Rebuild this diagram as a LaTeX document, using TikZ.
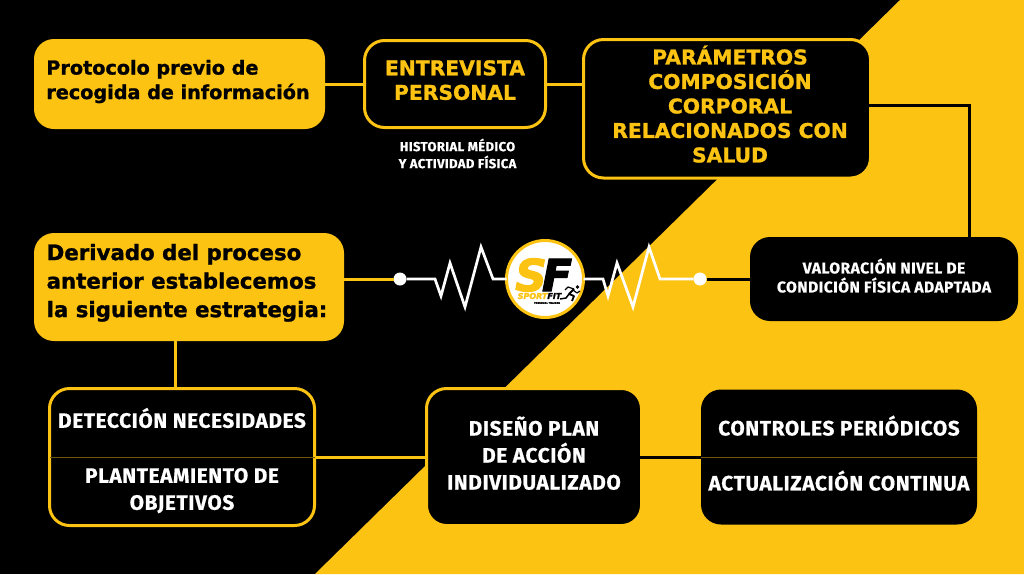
\documentclass[tikz,border=0pt]{standalone}
\usepackage{fontspec}
\usepackage{tikz}
\usetikzlibrary{positioning}
\setmainfont[BoldFeatures={FakeBold=1.2},BoldItalicFeatures={FakeBold=2.5}]{DejaVu Sans}
\newfontfamily\firafont[LetterSpace=3,BoldFeatures={FakeBold=0.7}]{Fira Sans}
\definecolor{sfyellow}{HTML}{FDC313}
\definecolor{sfgold}{HTML}{6E5510}
\newcommand{\padlow}[1]{\rule[-#1]{0pt}{0pt}}
\newcommand{\padtop}[1]{\rule{0pt}{#1}}
\tikzset{
  box/.style={rectangle,rounded corners=20pt,inner sep=0pt,outer sep=0pt,align=center},
  yellowbox/.style={box,fill=sfyellow,text=black,font=\fontsize{19.2}{24.5}\selectfont\bfseries},
  outlinebox/.style={box,fill=black,draw=sfyellow,line width=3pt},
  darkbox/.style={box,fill=black,text=white},
  headtext/.style={text=sfyellow,font=\fontsize{20.3}{24.5}\selectfont\bfseries},
  whitetext/.style={text=white,font=\fontsize{20.8}{27}\selectfont\firafont\bfseries},
  smalltext/.style={text=white,align=center,font=\fontsize{15.6}{19}\selectfont\firafont\bfseries},
  yellowline/.style={draw=sfyellow,line width=3pt},
  blackline/.style={draw=black,line width=3pt},
  pulseline/.style={draw=white,line width=2.7pt,line join=miter},
  divider/.style={draw=sfgold,line width=1pt},
  dot/.style={circle,fill=white,minimum size=13pt,inner sep=0pt,outer sep=0pt}
}
\begin{document}
\begin{tikzpicture}
        [x=1pt,y=-1pt]
      \useasboundingbox (0,0) rectangle (1024,574);
      \fill [black] (0,0) rectangle (1024,574);
      \fill [sfyellow] (900,0) -- (1024,0) -- (1024,574) -- (315,574) -- cycle;
      \node[yellowbox,minimum width=291pt,minimum height=90pt,align=left] (protocolo) at (179.5,84)
        {Protocolo previo de\\recogida de información\hspace*{3pt}\padlow{9pt}};
      \node[outlinebox,headtext,minimum width=181pt,minimum height=87pt] (entrevista) [right=39.5pt of protocolo]
        {ENTREVISTA\\PERSONAL\padlow{8pt}};
      \node[smalltext,font=\fontsize{13}{17}\selectfont\firafont\bfseries] (historial) at (457.5,153.5) {HISTORIAL MÉDICO\\Y ACTIVIDAD FÍSICA};
      \node[outlinebox,headtext,minimum width=287pt,minimum height=138.5pt] (parametros) at (727,108.75)
        {\hspace*{6pt}PARÁMETROS\\\hspace*{6pt}COMPOSICIÓN\\\hspace*{6pt}CORPORAL\\\hspace*{6pt}RELACIONADOS CON\\\hspace*{6pt}SALUD\padlow{9.5pt}};
      \node[darkbox,smalltext,minimum width=268pt,minimum height=84pt] (valoracion) at (884,279)
        {VALORACIÓN NIVEL DE\\CONDICIÓN FÍSICA ADAPTADA\padlow{7pt}};
      \node[yellowbox,font=\fontsize{21.3}{28.5}\selectfont\bfseries,minimum width=310pt,minimum height=108pt,align=left] (derivado) at (189,287)
        {Derivado del proceso\\anterior establecemos\\la siguiente estrategia:\hspace*{4pt}\padlow{13pt}};
      \node[outlinebox,whitetext,minimum width=265pt,minimum height=137pt] (deteccion) at (182,457)
        {\padtop{27pt}DETECCIÓN NECESIDADES\\[28pt]PLANTEAMIENTO DE\\OBJETIVOS};
      \node[outlinebox,whitetext,minimum width=215pt,minimum height=137pt] (diseno) [right=112pt of deteccion]
        {DISEÑO PLAN\\DE ACCIÓN\\INDIVIDUALIZADO\padlow{8pt}};
      \node[darkbox,whitetext,minimum width=276pt,minimum height=135pt] (controles) at (839,457)
        {CONTROLES PERIÓDICOS\\[28pt]ACTUALIZACIÓN CONTINUA\padlow{8pt}};
      \node[dot] (dotA) at (400,279) {};
      \node[dot] (dotB) at (700,279) {};
      \node[circle,fill=white,draw=sfyellow,line width=3pt,minimum size=77pt,inner sep=0pt,outer sep=0pt] (logo) at (545,279) {};
      \path [yellowline] (protocolo) edge (entrevista);
      \path [yellowline] (entrevista.east) edge (parametros.west |- entrevista.east);
      \path [blackline] ([xshift=-3pt]parametros.east |- 0,105) edge (969,105);
      \path [blackline] (969,103.5) edge (valoracion.north -| 969,0);
      \path [yellowline] (derivado.east |- dotA) edge (dotA);
      \path [blackline] (dotB) edge (valoracion);
      \path [yellowline] (derivado.south -| 175,0) edge (deteccion.north -| 175,0);
      \path [yellowline] (deteccion) edge (diseno);
      \path [blackline] ([xshift=-3pt]diseno.east) edge (controles);
      \path [divider] (deteccion.west) edge (deteccion.east);
      \path [divider] (controles.west) edge (controles.east);
      \draw [pulseline] (dotA) -- (435,279) -- (441,296) -- (450,263) -- (465,307) -- (481,247) -- (493,279) -- (logo);
      \draw [pulseline] (logo) -- (603,279) -- (608,296) -- (617,263) -- (633,307) -- (649,247) -- (660,279) -- (dotB);
      \node[inner sep=0pt,text=sfyellow,font=\fontsize{44}{44}\selectfont\bfseries\itshape] (logoS) at (531,275) {S};
      \node[inner sep=0pt,text=black,font=\fontsize{44}{44}\selectfont\bfseries\itshape] (logoF) at (557,275) {F};
      \node[inner sep=0pt,font=\fontsize{8}{8}\selectfont\bfseries\itshape] (logoname) at (539.5,296)
        {\textcolor{sfyellow}{SPORT}\textcolor{black}{FIT}};
      \node[inner sep=0pt,text=black,font=\fontsize{2.3}{2.3}\selectfont\bfseries] (logotag) at (547,303) {PERSONAL TRAINER};
      \fill [black] (577.5,287) circle (1.9);
      \draw [black,line width=1.8pt,line join=round] (574,289) -- (569,294) -- (574,296) -- (572,301);
      \draw [black,line width=1.5pt,line join=round] (569,294) -- (566,298) -- (560,299);
      \draw [black,line width=1.2pt,line join=round] (574,289) -- (568,287) -- (565,290);
      \draw [black,line width=1.2pt,line join=round] (573,290) -- (577,293) -- (580,291);
      \end{tikzpicture}
\end{document}
